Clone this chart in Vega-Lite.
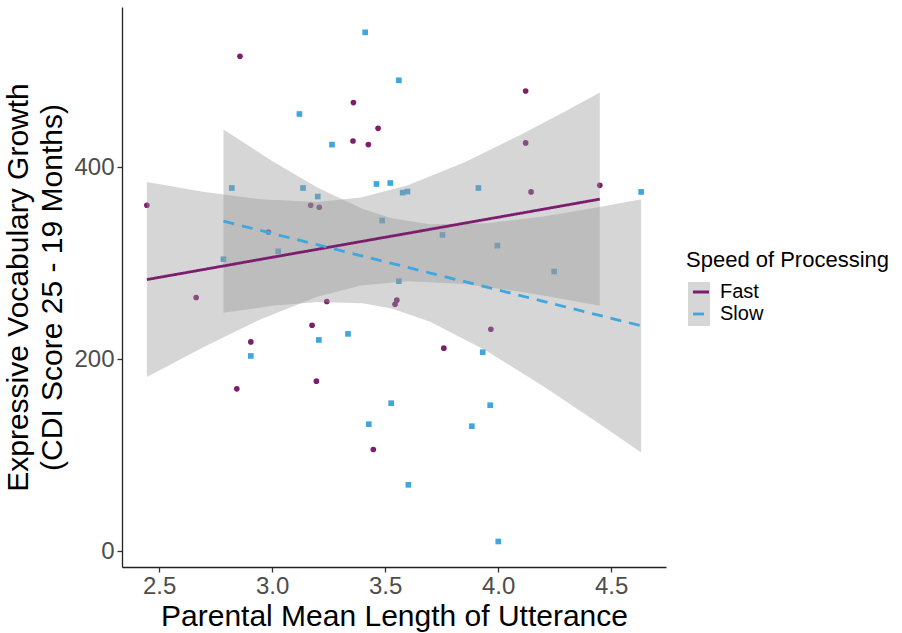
{
  "$schema": "https://vega.github.io/schema/vega-lite/v6.json",
  "width": 544,
  "height": 560,
  "autosize": {"type": "none"},
  "padding": {"left": 122, "top": 7, "right": 236, "bottom": 66},
  "background": "white",
  "config": {
    "view": {"stroke": null},
    "font": "Liberation Sans",
    "axis": {
      "grid": false,
      "domainColor": "#222222",
      "domainWidth": 1.3,
      "tickColor": "#333333",
      "tickWidth": 1.3,
      "tickSize": 5,
      "labelColor": "#4D4D4D",
      "labelFontSize": 24,
      "labelFont": "Liberation Sans",
      "titleFont": "Liberation Sans",
      "titleFontSize": 30,
      "titleFontWeight": "normal",
      "titleColor": "black"
    },
    "legend": {
      "titleFont": "Liberation Sans",
      "labelFont": "Liberation Sans",
      "titleFontSize": 22,
      "titleFontWeight": "normal",
      "titleColor": "black",
      "titleLimit": 400,
      "labelFontSize": 20,
      "labelColor": "black"
    }
  },
  "datasets": {
    "pts": [
      {"mlu": 2.858, "cdi": 515.6, "speed": "Fast"},
      {"mlu": 3.360, "cdi": 467.4, "speed": "Fast"},
      {"mlu": 3.469, "cdi": 440.6, "speed": "Fast"},
      {"mlu": 3.358, "cdi": 427.4, "speed": "Fast"},
      {"mlu": 3.426, "cdi": 423.6, "speed": "Fast"},
      {"mlu": 4.122, "cdi": 479.5, "speed": "Fast"},
      {"mlu": 4.122, "cdi": 425.4, "speed": "Fast"},
      {"mlu": 4.146, "cdi": 374.3, "speed": "Fast"},
      {"mlu": 4.450, "cdi": 381.2, "speed": "Fast"},
      {"mlu": 2.446, "cdi": 360.4, "speed": "Fast"},
      {"mlu": 3.171, "cdi": 360.4, "speed": "Fast"},
      {"mlu": 3.209, "cdi": 358.3, "speed": "Fast"},
      {"mlu": 2.984, "cdi": 332.6, "speed": "Fast"},
      {"mlu": 2.664, "cdi": 264.3, "speed": "Fast"},
      {"mlu": 3.242, "cdi": 260.1, "speed": "Fast"},
      {"mlu": 3.544, "cdi": 257.3, "speed": "Fast"},
      {"mlu": 3.552, "cdi": 261.5, "speed": "Fast"},
      {"mlu": 3.177, "cdi": 235.4, "speed": "Fast"},
      {"mlu": 2.906, "cdi": 218.0, "speed": "Fast"},
      {"mlu": 3.196, "cdi": 177.1, "speed": "Fast"},
      {"mlu": 3.968, "cdi": 231.2, "speed": "Fast"},
      {"mlu": 3.760, "cdi": 211.5, "speed": "Fast"},
      {"mlu": 2.844, "cdi": 169.1, "speed": "Fast"},
      {"mlu": 3.448, "cdi": 105.9, "speed": "Fast"},
      {"mlu": 3.412, "cdi": 540.6, "speed": "Slow"},
      {"mlu": 3.561, "cdi": 490.6, "speed": "Slow"},
      {"mlu": 3.121, "cdi": 455.5, "speed": "Slow"},
      {"mlu": 3.265, "cdi": 423.6, "speed": "Slow"},
      {"mlu": 2.822, "cdi": 378.4, "speed": "Slow"},
      {"mlu": 3.137, "cdi": 378.4, "speed": "Slow"},
      {"mlu": 3.202, "cdi": 369.5, "speed": "Slow"},
      {"mlu": 3.462, "cdi": 382.6, "speed": "Slow"},
      {"mlu": 3.523, "cdi": 383.6, "speed": "Slow"},
      {"mlu": 3.578, "cdi": 373.6, "speed": "Slow"},
      {"mlu": 3.599, "cdi": 374.7, "speed": "Slow"},
      {"mlu": 3.913, "cdi": 378.4, "speed": "Slow"},
      {"mlu": 4.633, "cdi": 374.3, "speed": "Slow"},
      {"mlu": 3.487, "cdi": 344.5, "speed": "Slow"},
      {"mlu": 3.027, "cdi": 312.5, "speed": "Slow"},
      {"mlu": 2.785, "cdi": 304.2, "speed": "Slow"},
      {"mlu": 3.561, "cdi": 281.3, "speed": "Slow"},
      {"mlu": 3.336, "cdi": 226.4, "speed": "Slow"},
      {"mlu": 3.207, "cdi": 220.1, "speed": "Slow"},
      {"mlu": 2.906, "cdi": 203.4, "speed": "Slow"},
      {"mlu": 3.754, "cdi": 329.5, "speed": "Slow"},
      {"mlu": 3.997, "cdi": 318.4, "speed": "Slow"},
      {"mlu": 4.248, "cdi": 291.4, "speed": "Slow"},
      {"mlu": 3.932, "cdi": 207.3, "speed": "Slow"},
      {"mlu": 3.527, "cdi": 154.2, "speed": "Slow"},
      {"mlu": 3.428, "cdi": 132.3, "speed": "Slow"},
      {"mlu": 3.965, "cdi": 152.1, "speed": "Slow"},
      {"mlu": 3.884, "cdi": 130.2, "speed": "Slow"},
      {"mlu": 3.603, "cdi": 69.1, "speed": "Slow"},
      {"mlu": 4.001, "cdi": 10.1, "speed": "Slow"}
    ],
    "fit": [
      {"mlu": 2.446, "lo": 181.4, "fit": 283.0, "hi": 384.6, "speed": "Fast"},
      {"mlu": 2.7, "lo": 213.0, "fit": 293.6, "hi": 374.2, "speed": "Fast"},
      {"mlu": 2.95, "lo": 241.6, "fit": 304.1, "hi": 366.6, "speed": "Fast"},
      {"mlu": 3.2, "lo": 265.1, "fit": 314.5, "hi": 363.9, "speed": "Fast"},
      {"mlu": 3.393, "lo": 276.7, "fit": 322.6, "hi": 368.5, "speed": "Fast"},
      {"mlu": 3.6, "lo": 281.2, "fit": 331.2, "hi": 381.2, "speed": "Fast"},
      {"mlu": 3.85, "lo": 278.3, "fit": 341.7, "hi": 405.1, "speed": "Fast"},
      {"mlu": 4.1, "lo": 270.3, "fit": 352.1, "hi": 433.9, "speed": "Fast"},
      {"mlu": 4.3, "lo": 262.3, "fit": 360.5, "hi": 458.7, "speed": "Fast"},
      {"mlu": 4.45, "lo": 255.7, "fit": 366.8, "hi": 477.9, "speed": "Fast"},
      {"mlu": 2.785, "lo": 248.3, "fit": 343.8, "hi": 439.3, "speed": "Slow"},
      {"mlu": 3.0, "lo": 255.6, "fit": 331.1, "hi": 406.6, "speed": "Slow"},
      {"mlu": 3.2, "lo": 259.6, "fit": 319.3, "hi": 379.0, "speed": "Slow"},
      {"mlu": 3.4, "lo": 258.3, "fit": 307.5, "hi": 356.7, "speed": "Slow"},
      {"mlu": 3.529, "lo": 252.9, "fit": 299.9, "hi": 346.9, "speed": "Slow"},
      {"mlu": 3.7, "lo": 239.0, "fit": 289.8, "hi": 340.6, "speed": "Slow"},
      {"mlu": 3.95, "lo": 208.6, "fit": 275.1, "hi": 341.6, "speed": "Slow"},
      {"mlu": 4.2, "lo": 171.8, "fit": 260.3, "hi": 348.8, "speed": "Slow"},
      {"mlu": 4.45, "lo": 132.5, "fit": 245.6, "hi": 358.7, "speed": "Slow"},
      {"mlu": 4.633, "lo": 102.8, "fit": 234.8, "hi": 366.8, "speed": "Slow"}
    ]
  },
  "encoding": {
    "x": {"field": "mlu", "type": "quantitative",
      "scale": {"domain": [2.336, 4.743], "nice": false, "zero": false},
      "axis": {"values": [2.5, 3.0, 3.5, 4.0, 4.5], "format": ".1f", "title": "Parental Mean Length of Utterance", "titlePadding": 3, "labelPadding": 2}}
  },
  "layer": [
    {
      "data": {"name": "pts"},
      "transform": [{"filter": "datum.speed === 'Fast'"}],
      "mark": {"type": "point", "shape": "circle", "filled": true, "opacity": 1, "size": 32},
      "encoding": {
        "y": {"field": "cdi", "type": "quantitative",
          "scale": {"domain": [-16.5, 567], "nice": false, "zero": false},
          "axis": {"values": [0, 200, 400], "title": ["Expressive Vocabulary Growth", "(CDI Score 25 - 19 Months)"], "titlePadding": 6, "labelPadding": 3, "titleLineHeight": 34}},
        "fill": {"field": "speed", "type": "nominal",
          "scale": {"range": ["#7B1E6D", "#40A6DE"]}, "legend": null}
      }
    },
    {
      "data": {"name": "pts"},
      "transform": [{"filter": "datum.speed === 'Slow'"}],
      "mark": {"type": "point", "shape": "square", "filled": true, "opacity": 1, "size": 32},
      "encoding": {
        "y": {"field": "cdi", "type": "quantitative"},
        "fill": {"field": "speed", "type": "nominal", "legend": null}
      }
    },
    {
      "data": {"name": "fit"},
      "mark": {"type": "area", "opacity": 0.4},
      "encoding": {
        "y": {"field": "lo", "type": "quantitative"},
        "y2": {"field": "hi"},
        "color": {"field": "speed", "type": "nominal",
          "scale": {"range": ["#999999", "#999999"]},
          "legend": {"title": " ", "orient": "none", "legendX": 564, "legendY": 243,
            "symbolType": "square", "symbolSize": 484, "symbolOpacity": 0.4, "symbolStrokeWidth": 0,
            "rowPadding": 0, "titlePadding": 10, "symbolOffset": 2, "labelExpr": "''"}}
      }
    },
    {
      "data": {"name": "fit"},
      "mark": {"type": "line", "strokeWidth": 2.8},
      "encoding": {
        "y": {"field": "fit", "type": "quantitative"},
        "stroke": {"field": "speed", "type": "nominal",
          "scale": {"domain": ["Fast", "Slow"], "range": ["#7B1E6D", "#40A6DE"]},
          "legend": {"title": "Speed of Processing", "orient": "none", "legendX": 564, "legendY": 243,
            "symbolType": "stroke", "symbolStrokeWidth": 2.8, "symbolSize": 256, "rowPadding": 2, "titlePadding": 10, "symbolOffset": 5, "labelOffset": 9}},
        "strokeDash": {"field": "speed", "type": "nominal",
          "scale": {"domain": ["Fast", "Slow"], "range": [[1, 0], [11, 8]]}, "legend": null}
      }
    }
  ]
}
